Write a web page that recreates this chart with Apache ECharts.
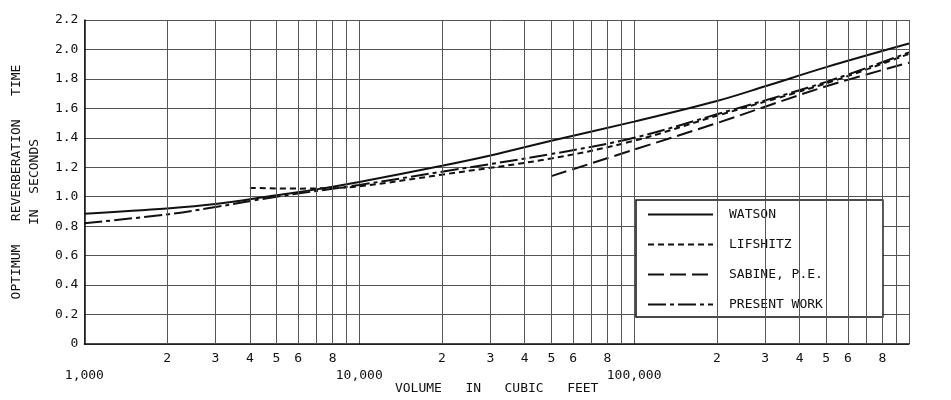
<!DOCTYPE html>
<html>
<head>
<meta charset="utf-8">
<script src="https://cdn.jsdelivr.net/npm/echarts@6/dist/echarts.min.js"></script>
<style>html,body{margin:0;padding:0;background:#fff;}#c{width:951px;height:400px;}</style>
</head>
<body>
<div id="c"></div>
<script>
// ---- data ----
const watsonV   = [1000, 2000, 3000, 5000, 7000, 10000, 20000, 30000, 50000, 100000, 200000, 300000, 500000, 1000000];
const watsonT   = [0.885, 0.92, 0.95, 1.01, 1.05, 1.10, 1.21, 1.28, 1.38, 1.51, 1.65, 1.75, 1.88, 2.04];
const lifshitzV = [4000, 6000, 8000, 10000, 20000, 50000, 100000, 200000, 500000, 1000000];
const lifshitzT = [1.06, 1.055, 1.06, 1.07, 1.15, 1.26, 1.38, 1.55, 1.77, 1.97];
const sabineV   = [50000, 100000, 200000, 500000, 1000000];
const sabineT   = [1.14, 1.32, 1.50, 1.75, 1.91];
const presentV  = [1000, 2000, 3000, 5000, 10000, 20000, 50000, 100000, 200000, 500000, 1000000];
const presentT  = [0.82, 0.88, 0.93, 1.00, 1.08, 1.17, 1.29, 1.40, 1.56, 1.78, 1.98];

const xTickValues = [1000,2000,3000,4000,5000,6000,8000,10000,20000,30000,40000,50000,60000,80000,100000,200000,300000,400000,500000,600000,800000,1000000];
const xTickLabels = ['1,000','2','3','4','5','6','8','10,000','2','3','4','5','6','8','100,000','2','3','4','5','6','8','1,000,000'];
const xMinorGrid  = [2000,3000,4000,5000,6000,7000,8000,9000,20000,30000,40000,50000,60000,70000,80000,90000,200000,300000,400000,500000,600000,700000,800000,900000];
const yTicks      = [0, 0.2, 0.4, 0.6, 0.8, 1.0, 1.2, 1.4, 1.6, 1.8, 2.0, 2.2];
const yTickLabels = ['0','0.2','0.4','0.6','0.8','1.0','1.2','1.4','1.6','1.8','2.0','2.2'];

const names = ['WATSON', 'LIFSHITZ', 'SABINE, P.E.', 'PRESENT WORK'];

function pairs(xs, ys){ return xs.map((x,i)=>[x, ys[i]]); }
const FONT = 'DejaVu Sans Mono';
const INK = '#111';

const chart = echarts.init(document.getElementById('c'), null, {renderer:'canvas'});
const lineBase = {type:'line', smooth:0.35, symbol:'none', showSymbol:false, silent:true, z:3};

chart.setOption({
  animation:false,
  backgroundColor:'#fff',
  grid:{left:84, right:42, top:20, bottom:52, containLabel:false},
  xAxis:[{
    type:'log', logBase:10, min:1000, max:1000000,
    axisLine:{show:true, lineStyle:{color:INK, width:1.5}},
    axisTick:{show:false},
    axisLabel:{show:false},
    splitLine:{show:true, lineStyle:{color:'#555', width:1}},
    name:'VOLUME   IN   CUBIC   FEET', nameLocation:'middle', nameGap:38,
    nameTextStyle:{fontFamily:FONT, fontSize:13, color:INK}
  },{
    type:'value', min:3, max:6, position:'bottom',
    axisLine:{show:false}, axisTick:{show:false}, splitLine:{show:false},
    axisLabel:{
      show:true, margin:6, fontFamily:FONT, fontSize:13, color:INK, lineHeight:17,
      customValues: xTickValues.map(v=>Math.log10(v)),
      formatter:function(val){
        let best=0, bd=1e9;
        xTickValues.forEach((v,i)=>{const d=Math.abs(Math.log10(v)-val); if(d<bd){bd=d;best=i;}});
        const t = xTickLabels[best];
        return t.indexOf(',')>=0 ? '\n'+t : t;
      }
    }
  }],
  yAxis:{
    type:'value', min:0, max:2.2, interval:0.2,
    axisLine:{show:true, lineStyle:{color:INK, width:1.5}},
    axisTick:{show:false},
    splitLine:{show:true, lineStyle:{color:'#555', width:1}},
    axisLabel:{margin:6, fontFamily:FONT, fontSize:13, color:INK,
      formatter:function(v){ let best=0,bd=1e9; yTicks.forEach((t,i)=>{const d=Math.abs(t-v); if(d<bd){bd=d;best=i;}}); return yTickLabels[best]; }},
    name:'OPTIMUM   REVERBERATION   TIME\nIN  SECONDS', nameLocation:'middle', nameGap:35,
    nameTextStyle:{fontFamily:FONT, fontSize:13, color:INK, lineHeight:18}
  },
  legend:{
    data:names, orient:'vertical', left:636, top:200,
    itemWidth:65, itemHeight:14, itemGap:17,
    padding:[8,60,6,11],
    backgroundColor:'#fff', borderColor:INK, borderWidth:1.5,
    selectedMode:false,
    itemStyle:{opacity:0, color:'rgba(0,0,0,0)', borderWidth:0},
    textStyle:{fontFamily:FONT, fontSize:13, color:INK, padding:[0,0,0,11]}
  },
  series:[
    {type:'line', name:'grid', data:[], silent:true, z:1,
      markLine:{silent:true, symbol:'none', label:{show:false}, animation:false,
        lineStyle:{color:'#555', width:1, type:'solid'},
        data:xMinorGrid.map(v=>({xAxis:v}))}},
    Object.assign({}, lineBase, {name:names[0], data:pairs(watsonV, watsonT), lineStyle:{color:INK, width:2, type:'solid'}, itemStyle:{color:INK}}),
    Object.assign({}, lineBase, {name:names[1], data:pairs(lifshitzV, lifshitzT), lineStyle:{color:INK, width:2, type:[6,4]}, itemStyle:{color:INK}}),
    Object.assign({}, lineBase, {name:names[2], data:pairs(sabineV, sabineT), lineStyle:{color:INK, width:2, type:[16,6]}, itemStyle:{color:INK}}),
    Object.assign({}, lineBase, {name:names[3], data:pairs(presentV, presentT), lineStyle:{color:INK, width:2, type:[18,4,4,4]}, itemStyle:{color:INK}})
  ]
});
</script>
</body>
</html>
